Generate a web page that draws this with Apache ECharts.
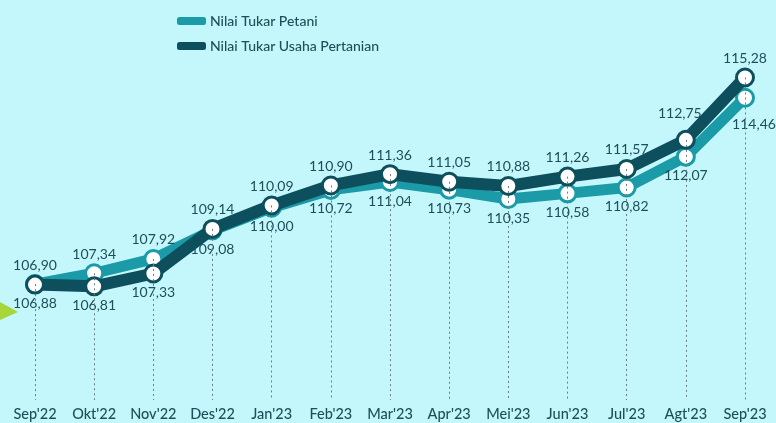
<!DOCTYPE html>
<html>
<head>
<meta charset="utf-8">
<script src="https://cdn.jsdelivr.net/npm/echarts@6/dist/echarts.min.js"></script>
<style>
html,body{margin:0;padding:0;background:#c4f7fb;}
#c{width:776px;height:423px;}
</style>
</head>
<body>
<div id="c"></div>
<script>
var categories = ["Sep'22","Okt'22","Nov'22","Des'22","Jan'23","Feb'23","Mar'23","Apr'23","Mei'23","Jun'23","Jul'23","Agt'23","Sep'23"];
var ntp = [106.90,107.34,107.92,109.08,110.00,110.72,111.04,110.73,110.35,110.58,110.82,112.07,114.46];
var ntup = [106.88,106.81,107.33,109.14,110.09,110.90,111.36,111.05,110.88,111.26,111.57,112.75,115.28];

var Y_MIN = 102.2, Y_MAX = 116.8;
var textColor = '#1d4f5a';
var fmt = function (v) { return v.toFixed(2).replace('.', ','); };

// label nudges so text clears the steep final segment
var labelNudge = {
  ntup: { 11: [-6, -7] },
  ntp: { 12: [9, 8] }
};

function buildData(vals, other, nudge) {
  return vals.map(function (v, i) {
    var lab = { position: v >= other[i] ? 'top' : 'bottom' };
    if (nudge[i]) lab.offset = nudge[i];
    return { value: v, label: lab };
  });
}

var dropLines = categories.map(function (c, i) {
  return [{ coord: [i, Math.max(ntp[i], ntup[i])] }, { coord: [i, Y_MIN] }];
});

var chart = echarts.init(document.getElementById('c'));
chart.setOption({
  backgroundColor: '#c4f7fb',
  animation: false,
  textStyle: { fontFamily: 'Lato, sans-serif' },
  legend: {
    orient: 'vertical',
    left: 172,
    top: 9,
    itemGap: 11,
    itemWidth: 27,
    itemHeight: 6,
    icon: 'roundRect',
    textStyle: { color: textColor, fontSize: 14, fontWeight: 500, fontFamily: 'Lato, sans-serif' },
    data: [
      { name: 'Nilai Tukar Petani', itemStyle: { color: '#1b9aa7' } },
      { name: 'Nilai Tukar Usaha Pertanian', itemStyle: { color: '#0d4f5c' } }
    ]
  },
  grid: { left: 35, right: 31, top: 40, bottom: 23 },
  xAxis: {
    type: 'category',
    data: categories,
    boundaryGap: false,
    axisLine: { show: false },
    axisTick: { show: false },
    axisLabel: { color: textColor, fontSize: 14.5, fontWeight: 500, margin: 7, interval: 0 },
    splitLine: { show: false }
  },
  yAxis: {
    type: 'value', min: Y_MIN, max: Y_MAX, show: false, splitLine: { show: false }
  },
  graphic: [{
    type: 'polygon',
    shape: { points: [[0, 302], [18, 312], [0, 320]] },
    style: { fill: '#a6d63a' }
  }],
  series: [
    {
      name: 'Nilai Tukar Petani',
      type: 'line',
      data: buildData(ntp, ntup, labelNudge.ntp),
      z: 2,
      symbol: 'circle',
      symbolSize: 17,
      lineStyle: { color: '#1b9aa7', width: 11 },
      itemStyle: { color: '#ffffff', borderColor: '#1b9aa7', borderWidth: 3 },
      label: { show: true, color: textColor, fontSize: 14, distance: 2, formatter: function (p) { return fmt(p.value); } },
      markLine: {
        silent: true,
        symbol: 'none',
        label: { show: false },
        lineStyle: { color: '#6b7d80', type: [2, 3], width: 1 },
        data: dropLines
      }
    },
    {
      name: 'Nilai Tukar Usaha Pertanian',
      type: 'line',
      data: buildData(ntup, ntp, labelNudge.ntup),
      z: 3,
      symbol: 'circle',
      symbolSize: 17,
      lineStyle: { color: '#0d4f5c', width: 12 },
      itemStyle: { color: '#ffffff', borderColor: '#0d4f5c', borderWidth: 3 },
      label: { show: true, color: textColor, fontSize: 14, distance: 2, formatter: function (p) { return fmt(p.value); } }
    }
  ]
});
</script>
</body>
</html>
